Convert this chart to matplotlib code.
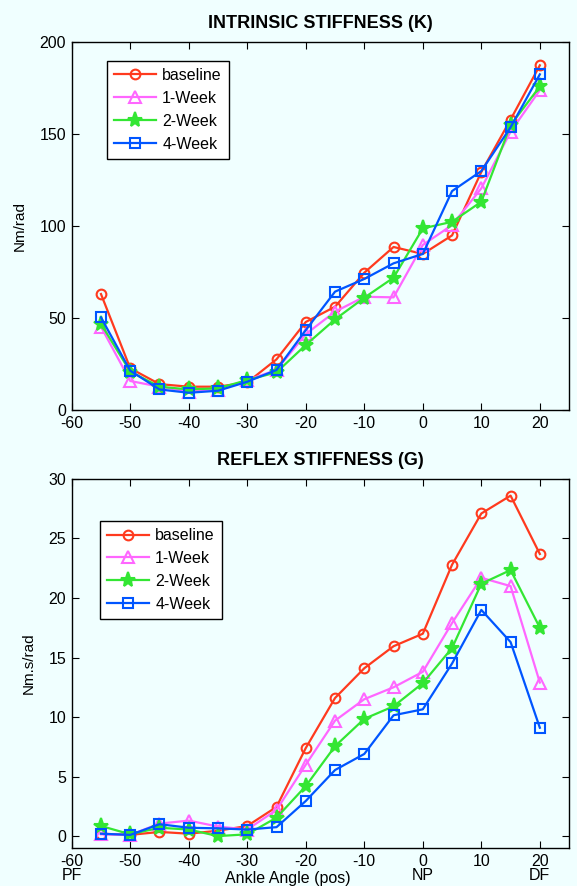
import matplotlib
matplotlib.use("Agg")
import matplotlib.pyplot as plt
import matplotlib.transforms as mtransforms

plt.rcParams['font.family'] = ['Liberation Sans', 'DejaVu Sans']

# ankle angle (deg)
angles = [-55, -50, -45, -40, -35, -30, -25, -20, -15, -10, -5, 0, 5, 10, 15, 20]

# intrinsic stiffness K (Nm/rad)
k_baseline = [63.1, 22.7, 14.1, 12.7, 12.7, 15.0, 27.6, 47.9, 56.2, 74.7, 88.7, 84.9, 95.0, 129.5, 158.0, 187.5]
k_week1 = [45.3, 15.8, 12.7, 10.0, 11.0, 16.3, 21.8, 41.3, 53.5, 61.6, 61.3, 89.8, 100.6, 120.6, 151.4, 174.0]
k_week2 = [46.8, 20.9, 12.7, 11.2, 11.8, 16.3, 20.5, 35.4, 49.3, 61.1, 72.0, 98.8, 102.4, 113.3, 155.0, 176.0]
k_week4 = [50.4, 21.4, 11.2, 9.4, 10.5, 15.4, 21.8, 43.5, 64.4, 71.3, 79.8, 84.9, 119.1, 130.0, 153.8, 182.6]

# reflex stiffness G (Nm.s/rad)
g_baseline = [0.2, 0.1, 0.35, 0.2, 0.45, 0.85, 2.45, 7.4, 11.6, 14.1, 15.95, 17.0, 22.8, 27.1, 28.6, 23.7]
g_week1 = [0.15, 0.1, 1.05, 1.3, 0.8, 0.55, 2.2, 6.0, 9.7, 11.5, 12.5, 13.8, 17.9, 21.7, 21.0, 12.9]
g_week2 = [0.85, 0.15, 0.7, 0.55, 0.0, 0.15, 1.55, 4.2, 7.55, 9.85, 10.9, 12.85, 15.8, 21.2, 22.35, 17.5]
g_week4 = [0.2, 0.1, 1.0, 0.7, 0.65, 0.55, 0.75, 2.95, 5.55, 6.9, 10.15, 10.65, 14.5, 19.0, 16.3, 9.1]

labels = ['baseline', '1-Week', '2-Week', '4-Week']
colors = ['#ff3a1e', '#ff66ff', '#33e633', '#0055ff']
markers = ['o', '^', '*', 's']
msizes = [7, 8, 11, 7]

xticks = [-60, -50, -40, -30, -20, -10, 0, 10, 20]
xticklabels_top = ['-60', '-50', '-40', '-30', '-20', '-10', '0', '10', '20']
xticklabels_bot = ['-60\nPF', '-50', '-40', '-30', '-20', '-10', '0\nNP', '10', '20\nDF']

bg = '#f0ffff'
fig = plt.figure(figsize=(5.77, 8.86), dpi=100, facecolor=bg)
ax1 = fig.add_axes([0.1243, 0.5372, 0.862, 0.415])
ax2 = fig.add_axes([0.1243, 0.0429, 0.862, 0.4165])


def draw(ax, series, ylim, yticks, ylabel, title, legend_pos):
    ax.set_facecolor(bg)
    for ys, lab, c, m, ms in zip(series, labels, colors, markers, msizes):
        filled = m == '*'
        ax.plot(angles, ys, color=c, lw=1.6, marker=m, ms=ms,
                mfc=c if filled else 'none', mec=c, mew=1.5, label=lab)
    ax.set_xlim(-60, 25)
    ax.set_ylim(*ylim)
    ax.set_yticks(yticks)
    ax.tick_params(direction='in', top=True, right=True, labelsize=11.5,
                   length=5, width=0.8, pad=4)
    for s in ax.spines.values():
        s.set_linewidth(1.0)
    ax.set_ylabel(ylabel, fontsize=11, labelpad=9)
    ax.set_title(title, fontsize=13, fontweight='bold', pad=10)
    leg = ax.legend(loc='upper left', bbox_to_anchor=legend_pos, fontsize=11.5,
                    handlelength=2.6, fancybox=False, framealpha=1,
                    facecolor='white', edgecolor='black', borderpad=0.45,
                    labelspacing=0.5, handletextpad=0.4)
    leg.get_frame().set_linewidth(1.0)


draw(ax1, [k_baseline, k_week1, k_week2, k_week4], (0, 200), [0, 50, 100, 150, 200],
     'Nm/rad', 'INTRINSIC STIFFNESS (K)', (0.055, 0.972))
ax1.set_xticks(xticks)
ax1.set_xticklabels(xticklabels_top)

draw(ax2, [g_baseline, g_week1, g_week2, g_week4], (-1, 30), [0, 5, 10, 15, 20, 25, 30],
     'Nm.s/rad', 'REFLEX STIFFNESS (G)', (0.041, 0.908))
ax2.set_xticks(xticks)
ax2.set_xticklabels(xticklabels_bot, linespacing=0.95, va='top')

trans = mtransforms.blended_transform_factory(ax2.transData, fig.transFigure)
ax2.text(-23, 0.0, 'Ankle Angle (pos)', transform=trans, ha='center', va='bottom',
         fontsize=11.5)

fig.savefig('out.png', dpi=100, facecolor=bg)
